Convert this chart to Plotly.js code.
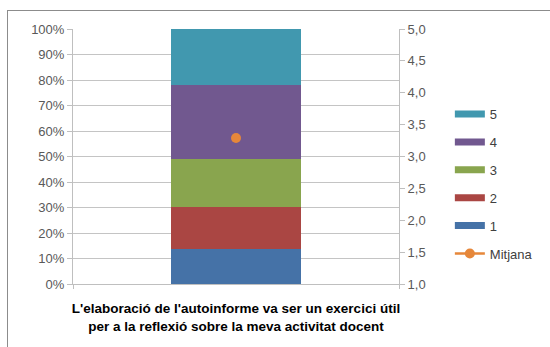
<!DOCTYPE html>
<html>
<head>
<meta charset="utf-8">
<script src="https://cdn.plot.ly/plotly-3.0.1.min.js"></script>
<style>
html,body{margin:0;padding:0;background:#fff;}
#wrap{position:relative;width:550px;height:347px;}
#chart{position:absolute;left:0;top:0;width:550px;height:347px;}
#frame{position:absolute;left:7px;top:10px;width:545px;height:340px;border-left:1px solid #8c8c8c;border-top:1px solid #8c8c8c;pointer-events:none;}
</style>
</head>
<body>
<div id="wrap"><div id="chart"></div><div id="frame"></div></div>
<script>
const category = ["L'elaboració de l'autoinforme va ser un exercici útil<br>per a la reflexió sobre la meva activitat docent"];
const seriesNames = ["1", "2", "3", "4", "5"];
const seriesShares = [0.139, 0.164, 0.187, 0.291, 0.219];
const seriesColors = ["#4572A7", "#AA4643", "#89A54E", "#71588F", "#4198AF"];
const meanName = "Mitjana";
const meanValue = [3.29];
const meanColor = "#E6873A";

const font = "Liberation Sans, Arial, sans-serif";
const traces = [];
seriesNames.forEach((n, i) => {
  traces.push({
    type: 'bar', name: n, x: category, y: [seriesShares[i]],
    marker: {color: seriesColors[i], line: {width: 0}},
    width: 0.4, showlegend: false, hoverinfo: 'skip'
  });
  // legend entry drawn as a wide swatch (no data)
  traces.push({
    type: 'scatter', mode: 'lines', name: n, x: category, y: [null],
    line: {color: seriesColors[i], width: 7},
    legendgroup: 'g' + n, legendrank: 5 - i, hoverinfo: 'skip'
  });
});
traces.push({
  type: 'scatter', mode: 'lines+markers', name: meanName, x: category, y: meanValue,
  yaxis: 'y2', line: {color: meanColor, width: 2.5}, marker: {color: meanColor, size: 10},
  legendgroup: 'gm', legendrank: 6
});

const layout = {
  width: 550, height: 347,
  margin: {l: 73, r: 146, t: 29, b: 63},
  paper_bgcolor: '#fff', plot_bgcolor: '#fff',
  barmode: 'stack',
  separators: ', ',
  font: {family: font, size: 13, color: '#595959'},
  showlegend: true,
  legend: {
    x: 1.156, xanchor: 'left', y: 0.392, yanchor: 'middle',
    traceorder: 'grouped', tracegroupgap: 8,
    font: {family: font, size: 13, color: '#404040'},
    itemwidth: 30
  },
  xaxis: {
    type: 'category', showgrid: false, showline: true, linecolor: '#bfbfbf', linewidth: 1,
    ticks: 'outside', tickson: 'boundaries', ticklen: 4, tickcolor: '#bfbfbf',
    ticklabelstandoff: 12, tickangle: 0, automargin: false,
    tickfont: {family: font, size: 13.5, color: '#000', weight: 'bold'},
    fixedrange: true
  },
  yaxis: {
    range: [0, 1], dtick: 0.1, tickformat: '.0%',
    showgrid: true, gridcolor: '#c4c4c4', gridwidth: 1,
    showline: true, linecolor: '#bfbfbf', ticks: 'outside', ticklen: 5, tickcolor: '#bfbfbf',
    zeroline: false, tickfont: {family: font, size: 13, color: '#595959'}
  },
  yaxis2: {
    overlaying: 'y', side: 'right', range: [1, 5], dtick: 0.5, tickformat: '.1f',
    showgrid: false, showline: true, linecolor: '#bfbfbf', ticks: 'outside', ticklen: 5,
    tickcolor: '#bfbfbf', zeroline: false, tickfont: {family: font, size: 13, color: '#595959'}
  }
};
Plotly.newPlot('chart', traces, layout, {displayModeBar: false, staticPlot: true});
</script>
</body>
</html>
